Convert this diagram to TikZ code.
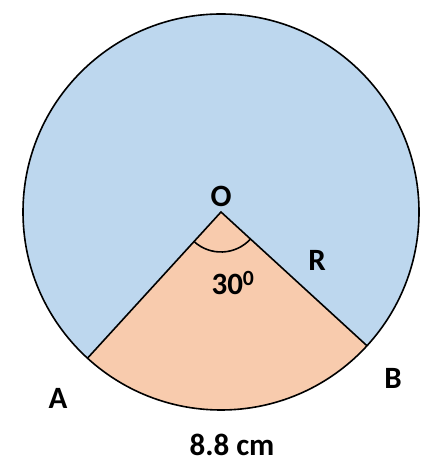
\documentclass[tikz,border=0pt]{standalone}
\usepackage{fontspec}
\setmainfont{Carlito}
\definecolor{majorblue}{RGB}{189,215,238}
\definecolor{minorpeach}{RGB}{248,203,173}
\begin{document}
\begin{tikzpicture}[x=1pt,y=1pt,
		lbl/.style={font=\fontsize{31}{36}\selectfont\bfseries},
		edge/.style={line width=1.6pt}]
			\useasboundingbox (0,0) rectangle (440,473);
			\coordinate (O) at (221,261);
			\path (O) ++(227.6:198pt) coordinate (A);
			\path (O) ++(317.5:198pt) coordinate (B);
			\path (O) ++(227.6:40pt) coordinate (a1);
			% major and minor sector
			\fill[majorblue] (O) circle (198pt);
			\fill[minorpeach] (O) -- (A) arc[start angle=227.6, end angle=317.5, radius=198pt] -- cycle;
			\draw[edge] (O) circle (198pt);
			\draw[edge] (A) -- (O) -- (B);
			\draw[edge] (a1) arc[start angle=227.6, end angle=317.5, radius=40pt];
			% labels
			\node[lbl] (lO) at (221,277) {O};
			\node[lbl] (ang) at (233,190) {30$^{\mathbf{0}}$};
			\node[lbl] (lR) at (317,213) {R};
			\node[lbl] (lA) at (58,75) {A};
			\node[lbl] (lB) at (393,95) {B};
			\node[lbl] (len) at (232,28) {8.8 cm};
		\end{tikzpicture}
\end{document}
